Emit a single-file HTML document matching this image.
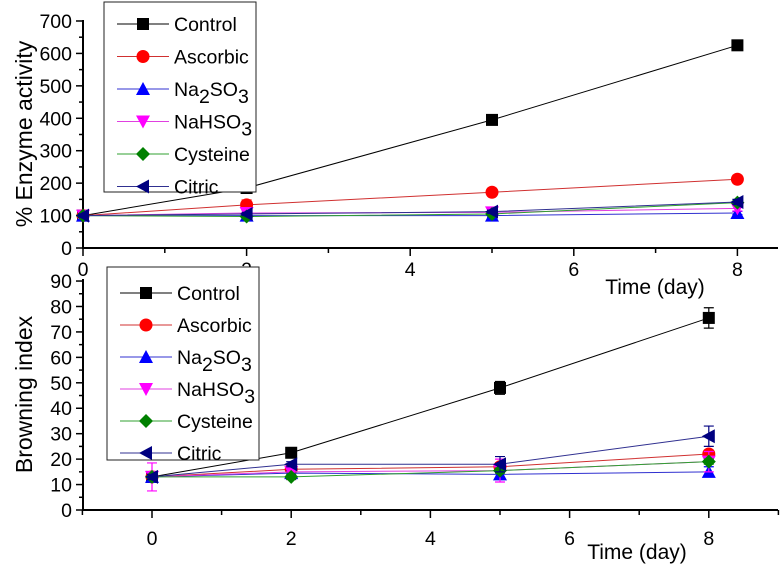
<!DOCTYPE html>
<html><head><meta charset="utf-8"><style>
body{margin:0;background:#fff;}
svg{display:block;font-family:"Liberation Sans",sans-serif;}
</style></head><body>
<svg id="chart" width="782" height="565" xmlns="http://www.w3.org/2000/svg"></svg>
<script>
const days = [0, 2, 5, 8];
const seriesNames = ["Control", "Ascorbic", "Na2SO3", "NaHSO3", "Cysteine", "Citric"];
const enzControl = [100, 185, 395, 625];
const enzAscorbic = [100, 133, 172, 212];
const enzNa2SO3 = [100, 100, 100, 108];
const enzNaHSO3 = [100, 108, 110, 122];
const enzCysteine = [100, 97, 105, 140];
const enzCitric = [100, 105, 112, 142];
const enzErr = [[8,8,8,15],[8,15,8,8],[5,5,5,5],[8,8,8,8],[5,5,5,5],[5,5,5,8]];
const brControl = [13, 22.5, 48, 75.5];
const brAscorbic = [13, 16, 17, 22];
const brNa2SO3 = [13, 14.5, 14, 15];
const brNaHSO3 = [13, 15, 15.5, 19];
const brCysteine = [13, 13, 15.5, 19];
const brCitric = [13, 18, 18, 29];
const brErr = [[1,1,2.5,4],[1,1,1.5,1.5],[1,1,2,2],[5.5,3,4.5,4],[1,1,1,1],[1,1,3,4]];
const enzYTicks = [0,100,200,300,400,500,600,700];
const brYTicks = [0,10,20,30,40,50,60,70,80,90];
const xTickLabels = [0,2,4,6,8];

const colors = ["#000000","#ff0000","#0000ff","#ff00ff","#008000","#000080"];
const lineColors = ["#000000","#d03030","#3030d0","#e040e0","#30a030","#303090"];
const NS = "http://www.w3.org/2000/svg";
const svg = document.getElementById("chart");
function el(tag, attrs, parent){const e=document.createElementNS(NS,tag);for(const k in attrs)e.setAttribute(k,attrs[k]);(parent||svg).appendChild(e);return e;}

const tx = d => 83 + d*81.8;
const ty = v => 248 - v*0.3243;
const bx = d => 152 + d*69.6;
const by = v => 510 - v*2.544;

function marker(i, x, y, g){
  const c = colors[i]; let m;
  if(i===0) m=el("rect",{x:x-6,y:y-6,width:12,height:12,fill:c},g);
  else if(i===1) m=el("circle",{cx:x,cy:y,r:6.5,fill:c},g);
  else if(i===2) m=el("polygon",{points:`${x},${y-7} ${x+7},${y+6} ${x-7},${y+6}`,fill:c},g);
  else if(i===3) m=el("polygon",{points:`${x},${y+7} ${x+7},${y-6} ${x-7},${y-6}`,fill:c},g);
  else if(i===4) m=el("polygon",{points:`${x},${y-7} ${x+7},${y} ${x},${y+7} ${x-7},${y}`,fill:c},g);
  else m=el("polygon",{points:`${x-7},${y} ${x+6},${y-7} ${x+6},${y+7}`,fill:c},g);
  
  
}

function panel(name, xs, ys, data, errs, yTicks, yMinor, axisY, axisX0, axisX1, yTop, xTickY, xTickDays, title, titleY, xTitleX, xTitleY){
  const g = el("g",{});
  
  
  el("line",{x1:axisX0,y1:axisY,x2:axisX1,y2:axisY,stroke:"#000","stroke-width":2},g);
  el("line",{x1:axisX0,y1:axisY+1,x2:axisX0,y2:yTop,stroke:"#000","stroke-width":2},g);
  yTicks.forEach(v=>{
    el("line",{x1:axisX0-7,y1:ys(v),x2:axisX0,y2:ys(v),stroke:"#000","stroke-width":1.5},g);
    const t=el("text",{x:axisX0-11,y:ys(v)+7,"text-anchor":"end","font-size":19.5},g);t.textContent=v;
    
    if(v<yTicks[yTicks.length-1]) el("line",{x1:axisX0-4,y1:ys(v+yMinor),x2:axisX0,y2:ys(v+yMinor),stroke:"#000","stroke-width":1.5},g);
  });
  for(let d=xTickDays[0]; d<=xTickDays[1]; d++){
    const major = d%2===0;
    el("line",{x1:xs(d),y1:axisY,x2:xs(d),y2:axisY+(major?8:5),stroke:"#000","stroke-width":1.5},g);
  }
  xTickLabels.forEach(d=>{
    const t=el("text",{x:xs(d),y:xTickY,"text-anchor":"middle","font-size":19.5},g);t.textContent=d;
    
  });
  const yt=el("text",{transform:`translate(${titleY},${(axisY+yTop)/2}) rotate(-90)`,"text-anchor":"middle","font-size":23},g);
  yt.textContent=title; 
  const xt=el("text",{x:xTitleX,y:xTitleY,"text-anchor":"middle","font-size":21},g);
  xt.textContent="Time (day)"; 
  data.forEach((arr,i)=>{
    const sg=el("g",{},g);
    
    
    el("polyline",{points:arr.map((v,j)=>xs(days[j])+","+ys(v)).join(" "),fill:"none",stroke:lineColors[i],"stroke-width":1},sg);
    arr.forEach((v,j)=>{
      const x=xs(days[j]), e=errs[i][j];
      el("path",{d:`M${x},${ys(v-e)}V${ys(v+e)}M${x-5},${ys(v-e)}h10M${x-5},${ys(v+e)}h10`,stroke:colors[i],"stroke-width":1.2,fill:"none"},sg);
      marker(i,x,ys(v),sg);
    });
  });
}

function legend(name, x, y, w, h, rowY0, rowStep){
  const g=el("g",{});
  
  
  el("rect",{x:x,y:y,width:w,height:h,fill:"#fff",stroke:"#222","stroke-width":1},g);
  const labels=[["Control"],["Ascorbic"],["Na","2","SO","3"],["NaHSO","3"],["Cysteine"],["Citric"]];
  labels.forEach((lab,i)=>{
    const ry=rowY0+i*rowStep;
    const eg=el("g",{},g);
    
    
    el("line",{x1:x+13,y1:ry,x2:x+65,y2:ry,stroke:lineColors[i],"stroke-width":1},eg);
    marker(i,x+39,ry,eg);
    const t=el("text",{x:x+70,y:ry+7,"font-size":19.5},eg);
    lab.forEach((s,k)=>{const sp=el("tspan",{},t); if(k%2===1){sp.setAttribute("dy","7");} else if(k>0){sp.setAttribute("dy","-7");} sp.textContent=s;});
  });
}

panel("enzyme-panel", tx, ty, [enzControl,enzAscorbic,enzNa2SO3,enzNaHSO3,enzCysteine,enzCitric], enzErr,
  enzYTicks, 50, 248, 83, 778, 20, 276, [0,8], "% Enzyme activity", 32, 655, 294);
panel("browning-panel", bx, by, [brControl,brAscorbic,brNa2SO3,brNaHSO3,brCysteine,brCitric], brErr,
  brYTicks, 5, 510, 83, 778, 279, 545, [-1,9], "Browning index", 32, 637, 559);
legend("enzyme-legend", 104, 2, 152, 190, 24, 32.5);
legend("browning-legend", 107, 267, 152, 193, 293, 32);
</script>
</body></html>
